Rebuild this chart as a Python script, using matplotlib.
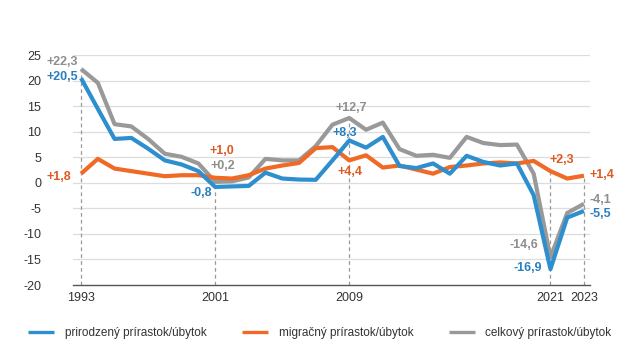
import matplotlib
matplotlib.use("Agg")
import matplotlib.pyplot as plt
import numpy as np

plt.rcParams['font.family'] = ['Liberation Sans', 'DejaVu Sans']

years = list(range(1993, 2024))
natural = [20.5, 14.5, 8.6, 8.8, 6.7, 4.4, 3.6, 2.3, -0.8, -0.7, -0.6, 2.0, 0.85, 0.65, 0.6, 4.4,
           8.3, 6.9, 9.0, 3.3, 2.9, 3.8, 1.8, 5.3, 4.1, 3.4, 3.8, -2.4, -16.9, -6.8, -5.5]
migration = [1.8, 4.7, 2.8, 2.3, 1.8, 1.3, 1.5, 1.5, 1.0, 0.85, 1.5, 2.8, 3.4, 3.9, 6.8, 7.0,
             4.4, 5.4, 3.0, 3.4, 2.6, 1.8, 3.1, 3.4, 3.8, 4.0, 3.8, 4.3, 2.3, 0.85, 1.4]
total = [22.3, 19.6, 11.5, 11.05, 8.6, 5.7, 5.1, 3.8, 0.2, 0.3, 1.05, 4.7, 4.4, 4.4, 7.2, 11.4,
         12.7, 10.4, 11.8, 6.6, 5.3, 5.5, 4.9, 9.0, 7.8, 7.4, 7.5, 1.8, -14.6, -5.9, -4.1]
series_names = ['prirodzený prírastok/úbytok', 'migračný prírastok/úbytok', 'celkový prírastok/úbytok']
highlight_years = [1993, 2001, 2009, 2021, 2023]
y_ticks = [-20, -15, -10, -5, 0, 5, 10, 15, 20, 25]

c_blue = '#2E8FCE'
c_orange = '#F06A25'
c_gray = '#999999'
t_blue = '#2A7FBF'
t_orange = '#E05A20'
t_gray = '#8E8E8E'

fig = plt.figure(figsize=(6.4, 3.6), dpi=100)
ax = fig.add_axes([73/640, 1-285/360, (590-73)/640, (285-55.2)/360])

for v in y_ticks[1:]:
    ax.axhline(v, color='#dddddd', lw=0.9, zorder=0)

idx = {y: i for i, y in enumerate(years)}
for hy in highlight_years:
    i = idx[hy]
    top = max(natural[i], migration[i], total[i])
    ax.plot([hy, hy], [-20, top], color='#999999', lw=0.9, ls=(0, (3, 2.5)), zorder=1)

ax.plot(years, migration, color=c_orange, lw=3.0, label=series_names[1], zorder=3, solid_capstyle='butt')
ax.plot(years, total, color=c_gray, lw=3.0, label=series_names[2], zorder=2, solid_capstyle='butt')
ax.plot(years, natural, color=c_blue, lw=3.0, label=series_names[0], zorder=4, solid_capstyle='butt')

ax.set_xlim(1992.52, 2023.36)
ax.set_ylim(-20, 25)
ax.set_yticks(y_ticks)
ax.set_yticklabels([str(v) for v in y_ticks], fontsize=9, color='#333333')
ax.set_xticks(highlight_years)
ax.set_xticklabels([str(y) for y in highlight_years], fontsize=9, color='#333333')
ax.tick_params(axis='y', length=0, pad=23)
ax.tick_params(axis='x', length=0, pad=5)
for s in ['top', 'right', 'left']:
    ax.spines[s].set_visible(False)
ax.spines['bottom'].set_color('#555555')
ax.spines['bottom'].set_linewidth(1.0)

def fmt(v):
    s = f"{abs(v):.1f}".replace('.', ',')
    return ('+' if v >= 0 else '-') + s

labels = [
    (1993, total, t_gray, -3, 7, 'right'),
    (1993, natural, t_blue, -3, 1, 'right'),
    (1993, migration, t_orange, -10, -3, 'right'),
    (2001, natural, t_blue, -3, -6, 'right'),
    (2001, migration, t_orange, 7, 27, 'center'),
    (2001, total, t_gray, 8, 16, 'center'),
    (2009, total, t_gray, 2, 10, 'center'),
    (2009, natural, t_blue, -4, 7, 'center'),
    (2009, migration, t_orange, 1, -12, 'center'),
    (2021, migration, t_orange, 11, 11, 'center'),
    (2023, migration, t_orange, 6, 1, 'left'),
    (2023, total, t_gray, 6, 4, 'left'),
    (2023, natural, t_blue, 6, -3, 'left'),
    (2021, total, t_gray, -12, 12, 'right'),
    (2021, natural, t_blue, -8, 1, 'right'),
]
for yr, ser, col, dx, dy, ha in labels:
    v = ser[idx[yr]]
    ax.annotate(fmt(v), xy=(yr, v), xytext=(dx, dy), textcoords='offset pixels',
                ha=ha, va='center', fontsize=9, fontweight='bold', color=col, zorder=5)

h, l = ax.get_legend_handles_labels()
order = [2, 0, 1]
leg = fig.legend([h[i] for i in order], [l[i] for i in order], loc='center',
                 bbox_to_anchor=(0.5, 1-333/360), ncol=3, frameon=False, fontsize=8.5,
                 handlelength=2.2, handletextpad=0.9, columnspacing=3.0)
for line in leg.get_lines():
    line.set_linewidth(2.4)
for t in leg.get_texts():
    t.set_color('#333333')

fig.savefig('out.png', dpi=100)
